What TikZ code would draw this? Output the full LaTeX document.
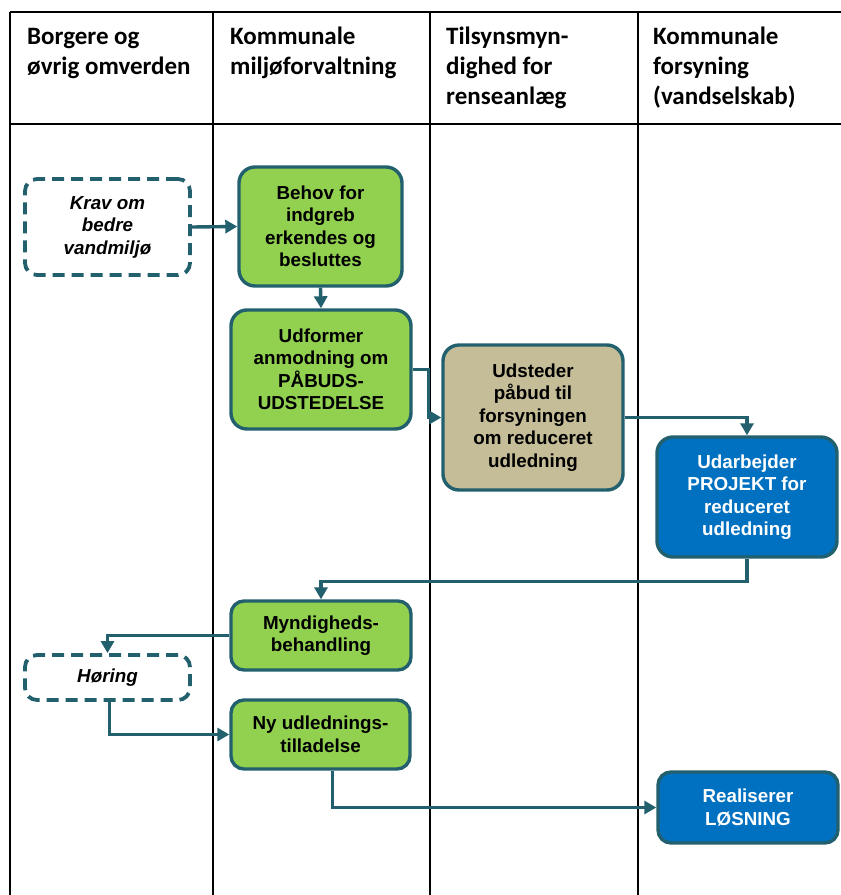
\documentclass[tikz,border=0pt]{standalone}
\usepackage{fontspec}
\setmainfont{Liberation Sans}
\newfontfamily\hdrfont{Carlito}
\usetikzlibrary{arrows.meta}
\definecolor{conn}{HTML}{23606E}
\definecolor{greenfill}{HTML}{92D050}
\definecolor{bluefill}{HTML}{0070C0}
\definecolor{tanfill}{HTML}{C4BD97}
\tikzset{
  tableline/.style={line width=1.9pt, black},
  hdrtext/.style={anchor=north west, inner sep=0pt, align=left,
    font=\hdrfont\bfseries\fontsize{25}{30}\selectfont},
  procbox/.style={draw=conn, line width=3.4pt, rounded corners=16pt,
    inner sep=0pt, align=center, text=black,
    font=\bfseries\fontsize{18.8}{22.5}\selectfont},
  greenbox/.style={procbox, fill=greenfill},
  tanbox/.style={procbox, fill=tanfill},
  bluebox/.style={procbox, fill=bluefill, text=white},
  extbox/.style={draw=conn, line width=3.8pt, rounded corners=12pt,
    dash pattern=on 12pt off 7pt, fill=white, inner sep=0pt, align=center,
    font=\bfseries\itshape\fontsize{18.8}{22.5}\selectfont},
  flow/.style={draw=conn, line width=3.4pt, rounded corners=0pt,
    -{Triangle[length=12pt,width=13pt]}}
}
\begin{document}
\begin{tikzpicture}[x=1pt,y=-1pt]
\useasboundingbox (0,0) rectangle (841,895);
\fill[white] (0,0) rectangle (841,895);
% table
\draw[tableline] (10,12) -- (841,12);
\draw[tableline] (10,124) -- (841,124);
\draw[tableline] (10,12) -- (10,895);
\draw[tableline] (213,12) -- (213,895);
\draw[tableline] (430,12) -- (430,895);
\draw[tableline] (638,12) -- (638,895);
% headers
\node[hdrtext] (h1) at (27,28) {Borgere og\\øvrig omverden};
\node[hdrtext] (h2) at (230,27) {Kommunale\\miljøforvaltning};
\node[hdrtext] (h3) at (446,27) {Tilsynsmyn-\\dighed for\\renseanlæg};
\node[hdrtext] (h4) at (653,27) {Kommunale\\forsyning\\(vandselskab)};
% boxes
\node[extbox, minimum width=165pt, minimum height=96pt] (krav) at (107.5,227) {Krav om\\bedre\\vandmiljø};
\node[greenbox, minimum width=163pt, minimum height=119pt] (behov) at (320.5,226.5) {Behov for\\indgreb\\erkendes og\\besluttes};
\node[greenbox, minimum width=180pt, minimum height=119pt] (udformer) at (321,369.5) {Udformer\\anmodning om\\PÅBUDS-\\UDSTEDELSE};
\node[tanbox, minimum width=180pt, minimum height=145pt] (udsteder) at (533,417.5) {Udsteder\\påbud til\\forsyningen\\om reduceret\\udledning};
\node[bluebox, minimum width=180pt, minimum height=120pt] (udarb) at (747,497) {Udarbejder\\PROJEKT for\\reduceret\\udledning};
\node[greenbox, rounded corners=13pt, minimum width=180pt, minimum height=69pt] (myndig) at (321,635.5) {Myndigheds-\\behandling};
\node[extbox, minimum width=165pt, minimum height=45pt] (horing) at (107.5,677.5) {Høring};
\node[greenbox, rounded corners=13pt, minimum width=179pt, minimum height=69pt] (ny) at (320.5,734.5) {Ny udlednings-\\tilladelse};
\node[bluebox, rounded corners=13pt, minimum width=180pt, minimum height=71pt] (real) at (748,807.5) {Realiserer\\LØSNING};
% connectors
\draw[flow] (krav.east) -- (behov.west);
\draw[flow] (behov.south) -- (udformer.north);
\draw[flow] (udformer.east) -- ++(16,0) |- (udsteder.west);
\draw[flow] (udsteder.east) -| (udarb.north);
\draw[flow] (udarb.south) -- ++(0,23) -| (myndig.north);
\draw[flow] (myndig.west) -| (horing.north);
\draw[flow] ([xshift=2pt]horing.south) |- (ny.west);
\draw[flow] ([xshift=12pt]ny.south) |- (real.west);
\end{tikzpicture}
\end{document}
